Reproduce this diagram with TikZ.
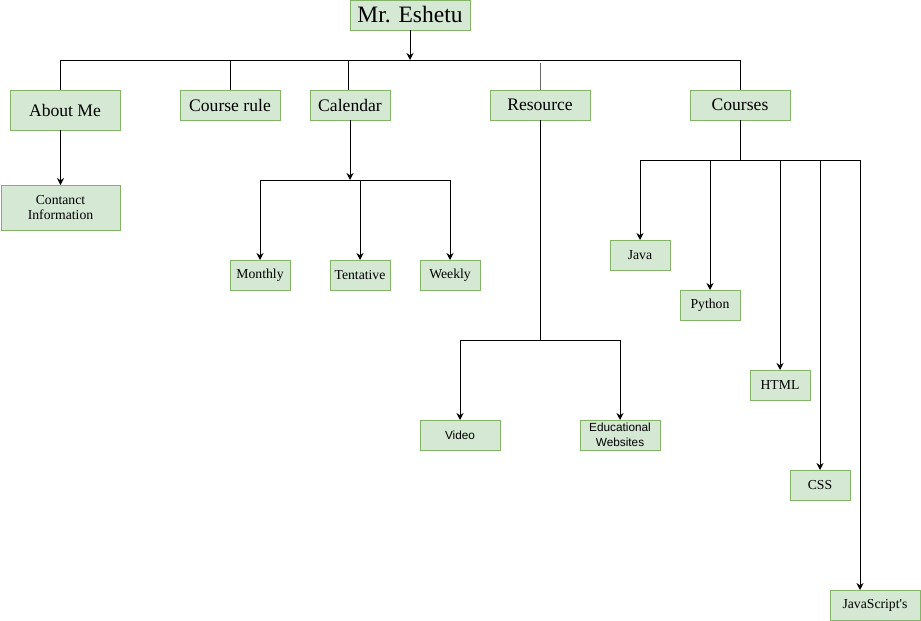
\documentclass[tikz,border=0pt]{standalone}
\usepackage{fontspec}
\setmainfont{Liberation Serif}
\newfontfamily\sansf{Liberation Sans}
\usetikzlibrary{positioning,arrows.meta}

\definecolor{boxfill}{HTML}{D5E8D4}
\definecolor{boxline}{HTML}{82B366}

\begin{document}
\begin{tikzpicture}[
  x=1pt, y=-1pt,
  line width=1pt,
  box/.style={draw=boxline, fill=boxfill, line width=1pt, align=center, inner sep=0pt, outer sep=0pt,
    minimum height=30pt, font=\fontsize{13.7}{15}\selectfont},
  big/.style={box, font=\fontsize{17.6}{20}\selectfont},
  sbox/.style={box, font=\sansf\fontsize{11.8}{14}\selectfont},
  arr/.style={-{Stealth[length=7pt, width=7pt]}, black},
  conn/.style={black}
]
  \useasboundingbox (0,0) rectangle (921,621);

  % root
  \node[box, minimum width=120pt, font=\fontsize{23.5}{26}\selectfont] (top) at (410,15) {Mr. Eshetu};
  \coordinate (bar) at (410,60);

  % first row
  \node[big, minimum width=110pt, minimum height=40pt] (about) at (65,110) {About Me};
  \node[big, minimum width=100pt] (rule) at (230,105) {Course rule};
  \node[big, minimum width=80pt] (cal) at (350,105) {Calendar};
  \node[big, minimum width=100pt] (res) at (540,105) {Resource};
  \node[big, minimum width=100pt] (courses) at (740,105) {Courses};

  % about me
  \node[box, minimum width=119pt, minimum height=45pt] (contact) at (60.5,207.5) {Contanct\\Information};

  % calendar
  \coordinate (calbar) at (350,180);
  \node[box, minimum width=60pt] (mon) at (260,275) {Monthly};
  \node[box, minimum width=60pt, right=40pt of mon] (tent) {Tentative};
  \node[box, minimum width=60pt, right=30pt of tent] (week) {Weekly};

  % resource
  \coordinate (resbar) at (540,340);
  \node[sbox, minimum width=80pt] (video) at (460,435) {Video};
  \node[sbox, minimum width=80pt, right=80pt of video, font=\sansf\fontsize{11.8}{15}\selectfont] (edu) {Educational\\Websites};

  % courses
  \coordinate (crsbar) at (740,160);
  \node[box, minimum width=60pt] (java) at (640,255) {Java};
  \node[box, minimum width=60pt] (python) at (710,305) {Python};
  \node[box, minimum width=60pt] (html) at (780,385) {HTML};
  \node[box, minimum width=60pt] (css) at (820,485) {CSS};
  \node[box, minimum width=90pt] (js) at (875,605) {JavaScript\textquotesingle s};

  % root links
  \draw[arr] (top) -- (bar);
  \draw[conn] (about.north -| contact) |- (courses.north |- bar) -- (courses.north);
  \draw[conn] (rule.north) -- (rule.north |- bar);
  \draw[conn] ([xshift=-2pt]cal.north) -- ([xshift=-2pt]cal.north |- bar);
  \draw[conn, black!60] (res.north) -- ([yshift=-3pt]res.north |- bar);
  \draw[conn] (res.south) -- (resbar);

  \draw[arr] (about.south -| contact) -- (contact);

  \draw[arr] (cal) -- (calbar);
  \draw[conn] (mon.north |- calbar) -- (week.north |- calbar);
  \foreach \n in {mon,tent,week}
    \draw[arr] (\n.north |- calbar) -- (\n.north);

  \draw[conn] (video.north |- resbar) -- (edu.north |- resbar);
  \foreach \n in {video,edu}
    \draw[arr] (\n.north |- resbar) -- (\n.north);

  \draw[conn] (courses) -- (crsbar);
  \draw[conn] (java.north |- crsbar) -- ([xshift=-15pt]js.north |- crsbar);
  \foreach \n in {java,python,html,css}
    \draw[arr] (\n.north |- crsbar) -- (\n.north);
  \draw[arr] ([xshift=-15pt]js.north |- crsbar) -- ([xshift=-15pt]js.north);
\end{tikzpicture}
\end{document}
